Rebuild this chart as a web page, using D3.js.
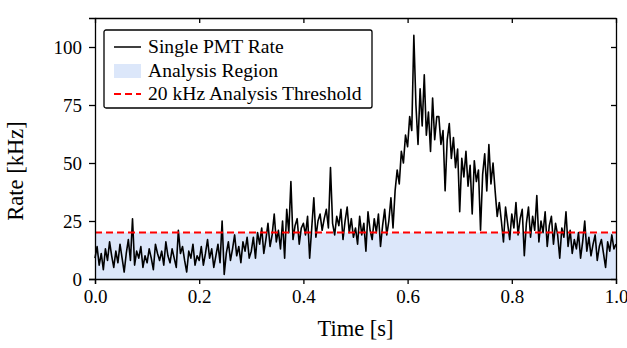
<!DOCTYPE html>
<html>
<head>
<meta charset="utf-8">
<script src="https://cdn.jsdelivr.net/npm/d3@7"></script>
<style>
    body { margin: 0; background: #fff; }
    text { font-family: "Liberation Serif", "Times New Roman", serif; }
    .axis path, .axis line { stroke: #000; stroke-width: 1.3; }
</style>
</head>
<body>
<div id="chart"></div>
<script>
// sample spacing of the rate trace [s]
const timeStep = 0.004;

// single PMT rate [kHz], one value per time step starting at t = 0
const rate = [
    9, 14, 6, 11, 4, 13, 8, 16, 10, 5, 12, 7, 15, 9, 3, 11, 17, 8, 26, 6, 12, 9, 14, 5, 10,
    7, 13, 9, 4, 15, 11, 8, 12, 6, 16, 10, 7, 13, 9, 5, 21, 11, 14, 8, 3, 12, 9, 15, 6, 10,
    8, 14, 6, 11, 17, 9, 13, 5, 10, 15, 7, 25, 2, 11, 16, 8, 13, 19, 10, 14, 7, 16, 12, 18, 9,
    12, 18, 9, 20, 15, 22, 11, 17, 24, 14, 19, 28, 16, 21, 13, 25, 9, 30, 20, 42, 17, 23, 26, 15, 22,
    24, 19, 27, 9, 22, 35, 18, 25, 28, 21, 26, 30, 22, 48, 24, 19, 27, 23, 30, 17, 25, 31, 20, 26, 18,
    22, 15, 27, 19, 24, 12, 29, 21, 17, 26, 20, 28, 14, 23, 30, 19, 25, 35, 22, 38, 47, 41, 55, 50, 62,
    57, 70, 64, 105, 75, 58, 82, 66, 88, 62, 72, 55, 78, 60, 70, 70, 58, 64, 38, 60, 67, 52, 61, 48, 56,
    29, 52, 44, 55, 40, 49, 28, 51, 42, 47, 21, 45, 54, 38, 58, 41, 50, 38, 27, 33, 25, 16, 31, 24, 17,
    28, 22, 33, 19, 26, 30, 10, 24, 31, 18, 27, 21, 36, 16, 25, 20, 29, 14, 23, 27, 15, 24, 19, 9, 22,
    18, 29, 14, 21, 11, 17, 13, 20, 9, 16, 25, 12, 18, 10, 15, 19, 8, 14, 17, 11, 5, 16, 12, 19, 13, 15
];

const threshold = 20;
const xTicks = [0, 0.2, 0.4, 0.6, 0.8, 1.0];
const yTicks = [0, 25, 50, 75, 100];
const legendLabels = ["Single PMT Rate", "Analysis Region", "20 kHz Analysis Threshold"];

let vis = {};
vis.margin = {top: 18, right: 11, bottom: 69, left: 95};
vis.width = 627 - vis.margin.left - vis.margin.right;
vis.height = 348 - vis.margin.top - vis.margin.bottom;

vis.svg = d3.select("#chart").append("svg")
    .attr("width", 627)
    .attr("height", 348)
    .append("g")
    .attr("transform", "translate(" + vis.margin.left + "," + vis.margin.top + ")");

vis.x = d3.scaleLinear().domain([0, 1]).range([0, vis.width]);
vis.y = d3.scaleLinear().domain([0, 112.5]).range([vis.height, 0]);

vis.points = rate.map((r, i) => ({t: i * timeStep, r: r}));

// analysis region below the threshold
vis.svg.append("rect")
    .attr("x", vis.x(0))
    .attr("y", vis.y(threshold))
    .attr("width", vis.x(1) - vis.x(0))
    .attr("height", vis.y(0) - vis.y(threshold))
    .attr("fill", "#dce7fa");

// rate trace
vis.svg.append("path")
    .datum(vis.points)
    .attr("fill", "none")
    .attr("stroke", "black")
    .attr("stroke-width", 1.6)
    .attr("stroke-linejoin", "round")
    .attr("d", d3.line().x(d => vis.x(d.t)).y(d => vis.y(d.r)));

// threshold line
vis.svg.append("line")
    .attr("x1", vis.x(0))
    .attr("x2", vis.x(1))
    .attr("y1", vis.y(threshold))
    .attr("y2", vis.y(threshold))
    .attr("stroke", "#ff0000")
    .attr("stroke-width", 2)
    .attr("stroke-dasharray", "7,4");

// axes (outer ticks bottom/left, inner ticks top/right)
vis.xAxis = d3.axisBottom(vis.x).tickValues(xTicks).tickFormat(d3.format(".1f")).tickSizeOuter(0).tickSize(5).tickPadding(6);
vis.yAxis = d3.axisLeft(vis.y).tickValues(yTicks).tickSizeOuter(0).tickSize(6).tickPadding(7);

vis.svg.append("g")
    .attr("class", "x-axis axis")
    .attr("transform", "translate(0," + vis.height + ")")
    .call(vis.xAxis);
vis.svg.append("g")
    .attr("class", "y-axis axis")
    .call(vis.yAxis);
vis.svg.append("g")
    .attr("class", "axis")
    .call(d3.axisTop(vis.x).tickValues(xTicks).tickSizeInner(-5).tickSizeOuter(0).tickFormat(""));
vis.svg.append("g")
    .attr("class", "axis")
    .attr("transform", "translate(" + vis.width + ",0)")
    .call(d3.axisRight(vis.y).tickValues(yTicks).tickSizeInner(-5).tickSizeOuter(0).tickFormat(""));

vis.svg.selectAll(".axis text")
    .attr("font-family", "Liberation Serif")
    .attr("font-size", 19)
    .attr("fill", "#000");

// axis titles
vis.svg.append("text")
    .attr("x", vis.width / 2)
    .attr("y", vis.height + 57)
    .attr("text-anchor", "middle")
    .attr("font-size", 22.5)
    .text("Time [s]");
vis.svg.append("text")
    .attr("transform", "rotate(-90)")
    .attr("x", -153)
    .attr("y", -72)
    .attr("text-anchor", "middle")
    .attr("font-size", 22.5)
    .text("Rate [kHz]");

// legend
vis.legend = vis.svg.append("g").attr("transform", "translate(9,12)");
vis.legend.append("rect")
    .attr("width", 268)
    .attr("height", 78)
    .attr("rx", 2)
    .attr("fill", "white")
    .attr("stroke", "black")
    .attr("stroke-width", 1.3);

const rowY = [17, 41, 64];
vis.legend.append("line")
    .attr("x1", 10).attr("x2", 37).attr("y1", rowY[0]).attr("y2", rowY[0])
    .attr("stroke", "black").attr("stroke-width", 1.5);
vis.legend.append("rect")
    .attr("x", 10).attr("y", rowY[1] - 7).attr("width", 27).attr("height", 14)
    .attr("fill", "#dce7fa");
vis.legend.append("line")
    .attr("x1", 10).attr("x2", 37).attr("y1", rowY[2]).attr("y2", rowY[2])
    .attr("stroke", "#ff0000").attr("stroke-width", 2).attr("stroke-dasharray", "7,4");

vis.legend.selectAll(".legend-label")
    .data(legendLabels)
    .enter()
    .append("text")
    .attr("class", "legend-label")
    .attr("x", 44)
    .attr("y", (d, i) => rowY[i] + 6)
    .attr("font-size", 19.6)
    .text(d => d);
</script>
</body>
</html>
